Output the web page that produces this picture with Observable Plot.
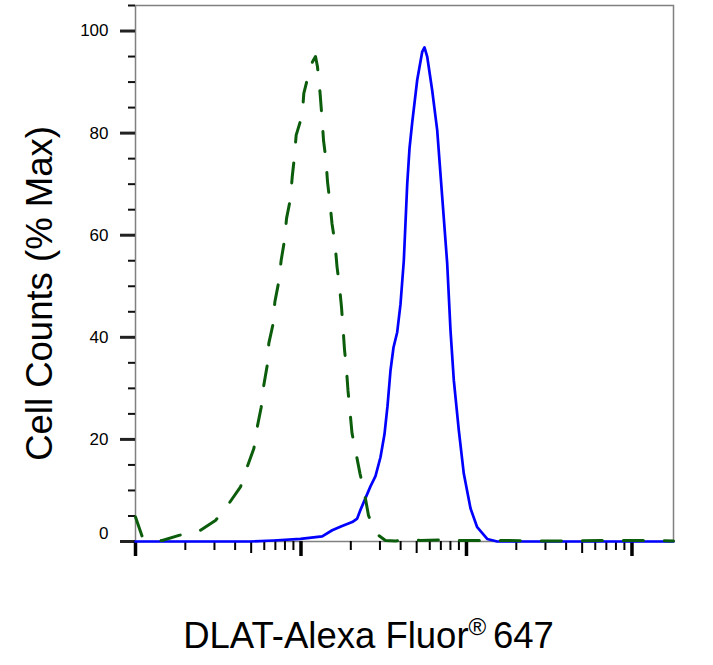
<!DOCTYPE html>
<html><head><meta charset="utf-8">
<script src="https://cdn.jsdelivr.net/npm/d3@7"></script>
<script src="https://cdn.jsdelivr.net/npm/@observablehq/plot@0.6"></script>
<style>body{margin:0;background:#fff;} svg{display:block}</style>
</head><body><div id="chart"></div>
<script>
// Fluorescence intensity (log scale) and % Max for the isotype control (green dashed)
const greenX = [100, 110, 123, 145, 183, 241, 304, 366, 431, 473, 519, 544, 575, 596, 625, 639, 679, 695, 734, 759, 795, 818, 864, 885, 913, 935, 1017, 1040, 1115, 1174, 1224, 1258, 1303, 1339, 1368, 1416, 1446, 1497, 1539, 1605, 1650, 1709, 1757, 1794, 1832, 1884, 1924, 1978, 2034, 2150, 2273, 2420, 2558, 2742, 2941, 3240, 3724, 4587, 5275, 6965, 9197, 16050, 32180, 64520, 129370, 178200];
const greenY = [4.8, 0.9, 0, 0.2, 1.2, 2.0, 4.1, 7.4, 10.7, 14.6, 18.2, 22.4, 26.3, 30.6, 34.5, 38.8, 42.7, 46.9, 50.9, 55.1, 59.0, 63.3, 67.2, 71.4, 75.4, 79.6, 83.5, 87.8, 91.7, 94, 95, 93, 88, 83, 78.6, 74.7, 70.5, 66.3, 62.3, 58.4, 53.9, 49.9, 45.9, 41.9, 37.6, 33.6, 29.5, 25.4, 21.2, 17.3, 13.3, 9.4, 5.1, 2.8, 1.2, 0.2, 0.1, 0.4, 0.2, 0.3, 0.2, 0.2, 0.1, 0.2, 0.2, 0.1];
// DLAT-stained sample (blue solid)
const blueX = [100, 495, 682, 993, 1343, 1544, 1757, 2040, 2186, 2288, 2453, 2629, 2819, 3022, 3195, 3332, 3474, 3622, 3814, 3993, 4181, 4384, 4526, 4697, 5038, 5399, 5574, 5788, 6204, 6653, 7133, 7645, 8004, 8382, 8985, 9632, 10572, 11605, 13341, 15330, 178200];
const blueY = [0, 0, 0.2, 0.5, 1.0, 2.2, 3.0, 3.8, 4.5, 6.2, 8.5, 10.8, 12.8, 16.5, 21, 26.5, 33.5, 38, 41, 46.5, 55, 70, 77, 82, 90.4, 95.9, 96.8, 95, 88.4, 80.6, 67.5, 54.5, 41.4, 31.6, 21.8, 13.3, 6.5, 2.8, 0.5, 0, 0];

const xMajor = [100, 1000, 10000, 100000];
const xMid = [500, 5000, 50000];
const xMinor = [200, 300, 400, 600, 700, 800, 900, 2000, 3000, 4000, 6000, 7000, 8000, 9000, 20000, 30000, 40000, 60000, 70000, 80000, 90000];
const yMajor = [20, 40, 60, 80, 100];
const yZero = [0];
const yMinor = [5, 10, 15, 25, 30, 35, 45, 50, 55, 65, 70, 75, 85, 90, 95, 105];

const yTitle = "Cell Counts (% Max)";
const xTitle = "DLAT-Alexa Fluor® 647";

const green = greenX.map((x, i) => ({x, y: greenY[i]}));
const blue = blueX.map((x, i) => ({x, y: blueY[i]}));

const chart = Plot.plot({
  width: 713, height: 665,
  marginLeft: 135, marginRight: 40, marginTop: 5, marginBottom: 124,
  style: {fontFamily: "'Liberation Sans', Arial, sans-serif", background: "#fff", color: "#000"},
  x: {type: "log", domain: [100, 178200], label: null},
  y: {domain: [0, 105], label: null},
  marks: [
    Plot.frame({stroke: "#808080", strokeWidth: 1.5}),
    Plot.axisY({ticks: yMinor, tickSize: 7, strokeWidth: 2, stroke: "#111", tickFormat: () => "", label: null}),
    Plot.axisY({ticks: yMajor, tickSize: 15, tickPadding: 12, strokeWidth: 3, stroke: "#222", fontSize: 17, label: null}),
    Plot.axisY({ticks: yZero, tickSize: 15, tickPadding: 12, strokeWidth: 3, stroke: "#222", fontSize: 17, tickFormat: () => "", label: null}),
    Plot.axisY({ticks: yZero, tickSize: 0, tickPadding: 27, dy: -8, fontSize: 17, label: null}),
    Plot.axisX({ticks: xMinor, tickSize: 9, strokeWidth: 2, stroke: "#000", tickFormat: () => "", label: null}),
    Plot.axisX({ticks: xMid, tickSize: 12, strokeWidth: 2, stroke: "#000", tickFormat: () => "", label: null}),
    Plot.axisX({ticks: xMajor, tickSize: 15, strokeWidth: 3.5, stroke: "#000", tickFormat: () => "", label: null}),
    Plot.line(blue, {x: "x", y: "y", stroke: "#0000ff", strokeWidth: 2.7}),
    Plot.line(green, {x: "x", y: "y", stroke: "#0b5d0b", strokeWidth: 3, strokeDasharray: "20,21"}),
    Plot.text([yTitle], {frameAnchor: "left", dx: -95, dy: 20, rotate: -90, fontSize: 36.5, textAnchor: "middle", fill: "#000"}),
    Plot.text([xTitle], {frameAnchor: "bottom", dx: -36, dy: 106, fontSize: 36.5, lineAnchor: "bottom", textAnchor: "middle", fill: "#000"})
  ]
});

document.getElementById("chart").appendChild(chart);

// Render the registered sign as a small superscript, as in the original
chart.querySelectorAll("text").forEach(t => {
  if (t.textContent === xTitle) {
    while (t.firstChild) t.removeChild(t.firstChild);
    const ns = "http://www.w3.org/2000/svg";
    const a = document.createElementNS(ns, "tspan"); a.textContent = "DLAT-Alexa Fluor";
    const b = document.createElementNS(ns, "tspan"); b.textContent = "® "; b.setAttribute("font-size", "24"); b.setAttribute("dy", "-13");
    const c = document.createElementNS(ns, "tspan"); c.textContent = "647"; c.setAttribute("dy", "13");
    t.appendChild(a); t.appendChild(b); t.appendChild(c);
  }
});
</script>
</body></html>
